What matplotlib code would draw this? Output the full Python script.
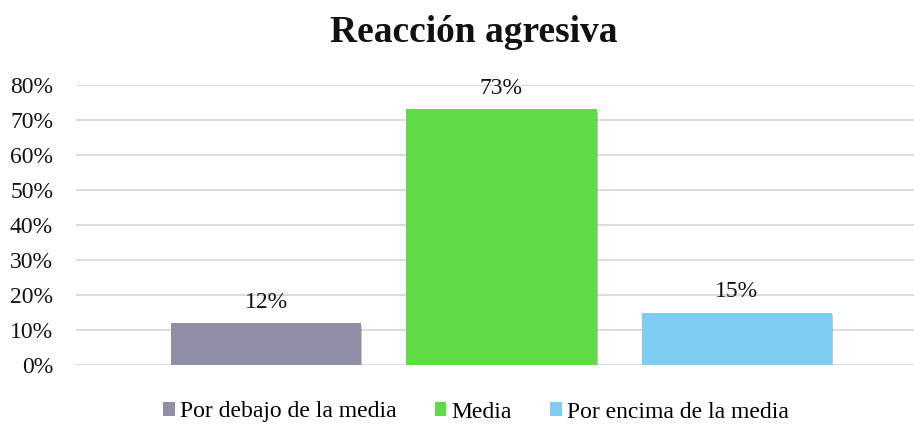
import matplotlib
matplotlib.use("Agg")
import matplotlib.pyplot as plt
from matplotlib.patches import Patch
import matplotlib.patheffects as pe

title = "Reacción agresiva"
categories = ["Por debajo de la media", "Media", "Por encima de la media"]
values = [0.12, 0.73, 0.15]
labels = ["12%", "73%", "15%"]
colors = ["#8E8EA6", "#61DA47", "#7FCEF1"]
yticks = [0, 0.1, 0.2, 0.3, 0.4, 0.5, 0.6, 0.7, 0.8]
ytick_labels = ["0%", "10%", "20%", "30%", "40%", "50%", "60%", "70%", "80%"]

plt.rcParams["font.family"] = ["Liberation Serif", "DejaVu Serif"]

W, H = 914, 426
fig = plt.figure(figsize=(W / 100, H / 100), dpi=100)
ax = fig.add_axes([76 / W, 61 / H, (W - 76) / W, 280 / H])

x = list(range(len(categories)))
bars = ax.bar(x, values, width=0.81, color=colors, zorder=3)
for b in bars:
    b.set_path_effects([pe.SimplePatchShadow(offset=(0.8, -1.8), alpha=0.3, shadow_rgbFace="#444444"), pe.Normal()])

for xi, v, lab in zip(x, values, labels):
    ax.annotate(lab, (xi, v), xytext=(0, 11), textcoords="offset points",
                ha="center", va="baseline", fontsize=17, color="#111111")

ax.set_xlim(-0.807, 2.752)
ax.set_ylim(0, 0.8)
ax.set_yticks(yticks)
ax.set_yticklabels(ytick_labels, fontsize=17, color="#111111")
ax.set_xticks([])
ax.tick_params(axis="y", length=0, pad=16.5)
ax.yaxis.grid(True, color="#D9D9D9", linewidth=1.3, zorder=0)
for s in ax.spines.values():
    s.set_visible(False)

fig.text(474 / W, 1 - 32 / H, title, ha="center", va="center",
         fontsize=27, fontweight="bold", color="#111111")

handles = [Patch(facecolor=c, edgecolor="none") for c in colors]
fig.legend(handles, categories, loc="center", bbox_to_anchor=(476 / W, 14 / H),
           ncol=3, frameon=False, fontsize=17, handlelength=0.5, handleheight=0.5,
           handletextpad=0.22, columnspacing=1.6, borderpad=0, borderaxespad=0)

fig.savefig("out.png", dpi=100)
